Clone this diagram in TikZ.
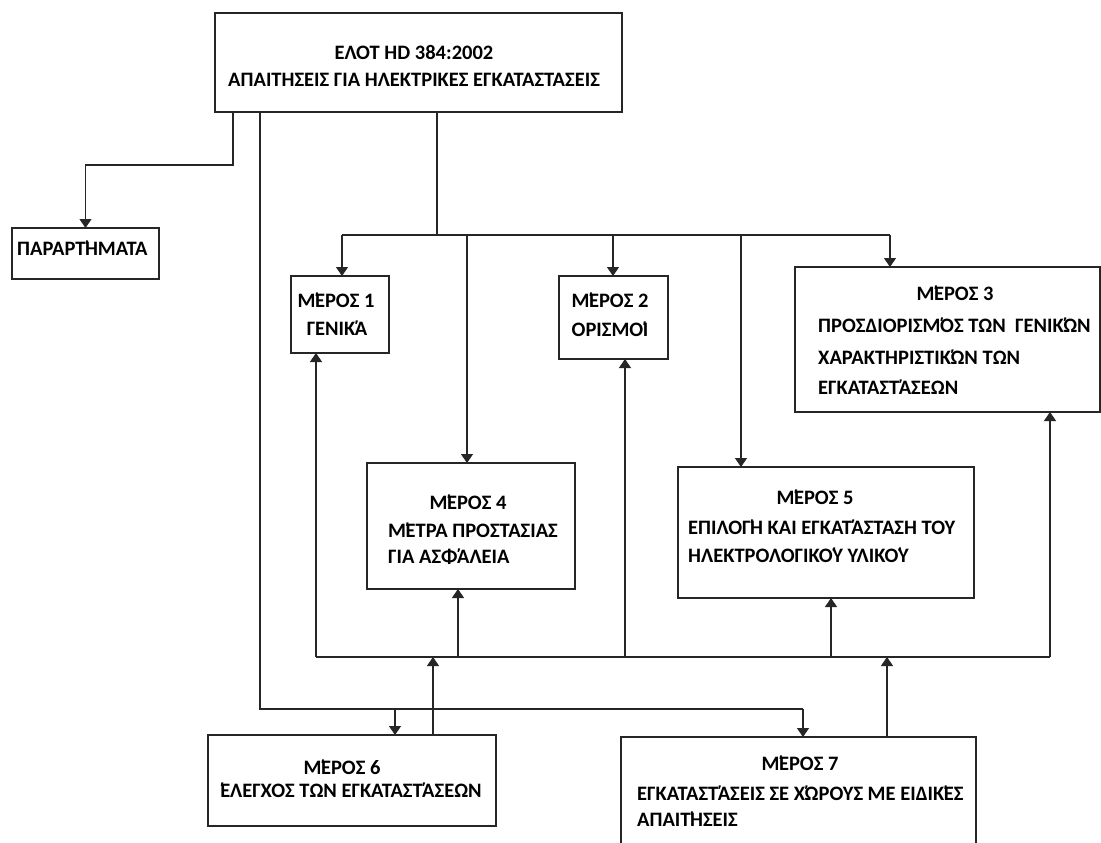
\documentclass[tikz,border=0pt]{standalone}
\usepackage{fontspec}
\setmainfont{Carlito}
\newcommand\tnk{\kern-2.5pt΄\kern-4.5pt}
\usetikzlibrary{arrows.meta}
\begin{document}
\begin{tikzpicture}[x=1pt,y=-1pt,
  box/.style={draw=black!85,line width=1.4pt,inner sep=0pt,outer sep=0pt},
  lbl/.style={inner sep=0pt,font=\fontsize{20.5}{24}\selectfont\bfseries},
  ln/.style={draw=black!85,line width=1.3pt},
  arr/.style={ln,-{Triangle[width=12pt,length=9pt]}}]
\useasboundingbox[fill=white] (0,0) rectangle (1101,843);
% boxes
\node[box,minimum width=407pt,minimum height=99pt] (top) at (418.5,62.5) {};
\node[box,minimum width=147pt,minimum height=51pt] (par) at (85.5,253.5) {};
\node[box,minimum width=98pt,minimum height=77pt] (m1) at (340,314.5) {};
\node[box,minimum width=109pt,minimum height=83pt] (m2) at (613.5,317.5) {};
\node[box,minimum width=305pt,minimum height=145pt] (m3) at (947.5,339.5) {};
\node[box,minimum width=208pt,minimum height=126pt] (m4) at (471,526) {};
\node[box,minimum width=296pt,minimum height=131pt] (m5) at (826,532.5) {};
\node[box,minimum width=288pt,minimum height=91pt] (m6) at (352,780.5) {};
\node[box,minimum width=355pt,minimum height=123pt] (m7) at (798.5,798.5) {};
% texts
\node[lbl] (t0a) at (414,52) {ΕΛΟΤ HD 384:2002};
\node[lbl] (t0b) at (414,80) {ΑΠΑΙΤΗΣΕΙΣ ΓΙΑ ΗΛΕΚΤΡΙΚΕΣ ΕΓΚΑΤΑΣΤΑΣΕΙΣ};
\node[lbl,anchor=west] (tp) at (17,248) {ΠΑΡΑΡΤ\tnk ΗΜΑΤΑ};
\node[lbl] (t1a) at (336,300) {Μ\tnk ΕΡΟΣ 1};
\node[lbl] (t1b) at (337,328) {ΓΕΝΙΚ\tnk Α};
\node[lbl] (t2a) at (610,300) {Μ\tnk ΕΡΟΣ 2};
\node[lbl] (t2b) at (610,329) {ΟΡΙΣΜΟ\tnk Ι};
\node[lbl] (t3a) at (955,293) {Μ\tnk ΕΡΟΣ 3};
\node[lbl,anchor=west] (t3b) at (818,325) {ΠΡΟΣΔΙΟΡΙΣΜ\tnk ΟΣ ΤΩΝ\ \ ΓΕΝΙΚ\tnk ΩΝ};
\node[lbl,anchor=west] (t3c) at (818,357) {ΧΑΡΑΚΤΗΡΙΣΤΙΚ\tnk ΩΝ ΤΩΝ};
\node[lbl,anchor=west] (t3d) at (818,387) {ΕΓΚΑΤΑΣΤ\tnk ΑΣΕΩΝ};
\node[lbl] (t4a) at (468,502) {Μ\tnk ΕΡΟΣ 4};
\node[lbl,anchor=west] (t4b) at (388,530) {Μ\tnk ΕΤΡΑ ΠΡΟΣΤΑΣΙΑΣ};
\node[lbl,anchor=west] (t4c) at (388,557) {ΓΙΑ ΑΣΦ\tnk ΑΛΕΙΑ};
\node[lbl] (t5a) at (815,497) {Μ\tnk ΕΡΟΣ 5};
\node[lbl,anchor=west] (t5b) at (688,527) {ΕΠΙΛΟΓ\tnk Η ΚΑΙ ΕΓΚΑΤ\tnk ΑΣΤΑΣΗ ΤΟΥ};
\node[lbl,anchor=west] (t5c) at (688,555) {ΗΛΕΚΤΡΟΛΟΓΙΚΟ\tnk Υ ΥΛΙΚΟ\tnk Υ};
\node[lbl] (t6a) at (342,767) {Μ\tnk ΕΡΟΣ 6};
\node[lbl] (t6b) at (350,790) {΄\kern-4.5pt ΕΛΕΓΧΟΣ ΤΩΝ ΕΓΚΑΤΑΣΤ\tnk ΑΣΕΩΝ};
\node[lbl] (t7a) at (800,763) {Μ\tnk ΕΡΟΣ 7};
\node[lbl,anchor=west] (t7b) at (637,793) {ΕΓΚΑΤΑΣΤ\tnk ΑΣΕΙΣ ΣΕ Χ\tnk ΩΡΟΥΣ ΜΕ ΕΙΔΙΚ\tnk ΕΣ};
\node[lbl,anchor=west] (t7c) at (637,819) {ΑΠΑΙΤ\tnk ΗΣΕΙΣ};
% junction coordinates
\coordinate (jp) at (233,165);
\coordinate (b1) at (437,235);
\coordinate (a1) at (342,235);
\coordinate (a4) at (467,235);
\coordinate (a2) at (613,235);
\coordinate (a5) at (741,235);
\coordinate (a3) at (890,235);
\coordinate (jb) at (260,709);
\coordinate (c6) at (395,709);
\coordinate (c7) at (803,709);
\coordinate (u1) at (316,657);
\coordinate (u4) at (458,657);
\coordinate (u2) at (625,657);
\coordinate (u5) at (831,657);
\coordinate (u3) at (1050,657);
\coordinate (v6) at (433,657);
\coordinate (v7) at (887,657);
% connectors from top
\draw[arr] (top.south -| jp) -- (jp) -| (par.north);
\draw[ln] (top.south -| b1) -- (b1);
\draw[ln] (a1) -- (a3);
\draw[arr] (a1) -- (a1 |- m1.north);
\draw[arr] (a2) -- (a2 |- m2.north);
\draw[arr] (a3) -- (a3 |- m3.north);
\draw[arr] (a4) -- (a4 |- m4.north);
\draw[arr] (a5) -- (a5 |- m5.north);
\draw[ln] (top.south -| jb) -- (jb) -- (c7);
\draw[arr] (c6) -- (c6 |- m6.north);
\draw[arr] (c7) -- (c7 |- m7.north);
% lower bus
\draw[ln] (u1) -- (u3);
\draw[arr] (u1) -- (u1 |- m1.south);
\draw[arr] (u4) -- (u4 |- m4.south);
\draw[arr] (u2) -- (u2 |- m2.south);
\draw[arr] (u5) -- (u5 |- m5.south);
\draw[arr] (u3) -- (u3 |- m3.south);
\draw[arr] (v6 |- m6.north) -- (v6);
\draw[arr] (v7 |- m7.north) -- (v7);
\end{tikzpicture}
\end{document}
